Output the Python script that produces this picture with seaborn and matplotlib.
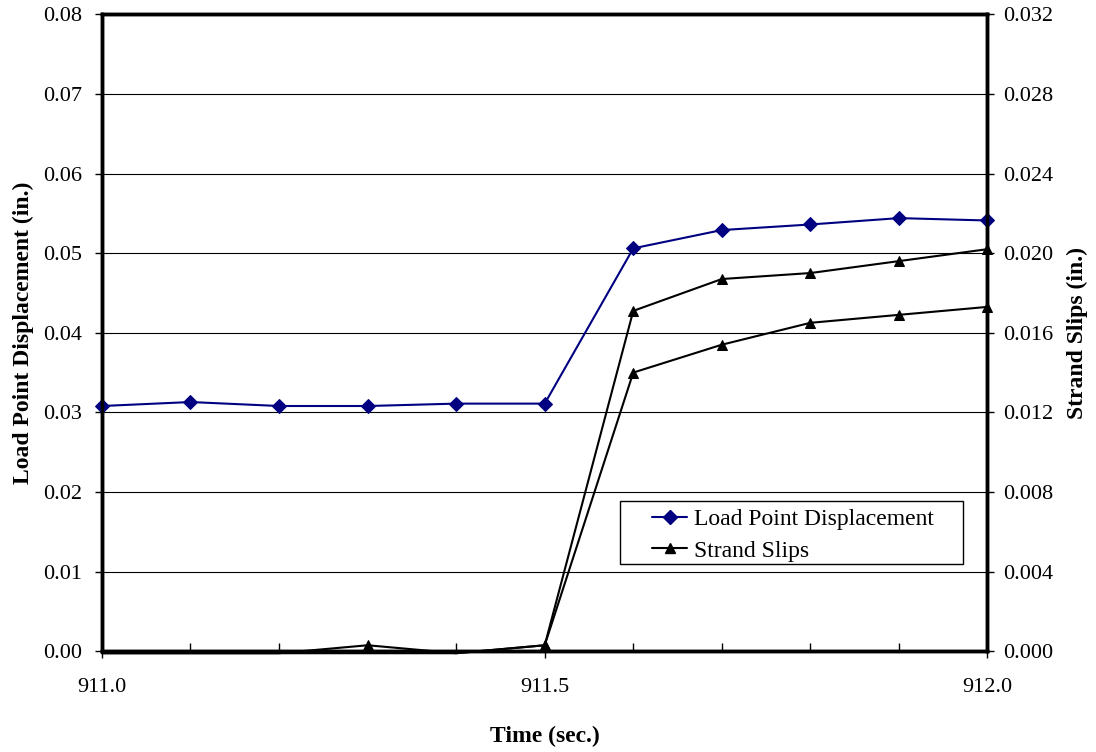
import matplotlib
matplotlib.use('Agg')
import matplotlib.pyplot as plt
import numpy as np
import pandas as pd
import seaborn as sns
from matplotlib.lines import Line2D
from matplotlib.patches import Rectangle
from matplotlib.ticker import FormatStrFormatter, MultipleLocator

# data
time = [911.0, 911.1, 911.2, 911.3, 911.4, 911.5, 911.6, 911.7, 911.8, 911.9, 912.0]
load_disp = [0.0308, 0.0313, 0.0308, 0.0308, 0.0311, 0.0311, 0.0506, 0.0529, 0.0536, 0.0544, 0.0541]
# two strand slip gauges, both plotted as "Strand Slips"
slip_a = [-0.0001, -0.0001, -0.0001, 0.0003, -0.0001, 0.0003, 0.0171, 0.0187, 0.0190, 0.0196, 0.0202]
slip_b = [-0.0001, -0.0001, -0.0001, -0.0001, -0.0001, 0.0003, 0.0140, 0.0154, 0.0165, 0.0169, 0.0173]

df = pd.DataFrame({'time': time, 'load': load_disp, 'slip_a': slip_a, 'slip_b': slip_b})

NAVY = '#000080'


def main():
    sns.set_style('white')
    plt.rcParams['font.family'] = ['Liberation Serif', 'DejaVu Serif']
    for key in ['text.color', 'axes.labelcolor', 'xtick.color', 'ytick.color']:
        plt.rcParams[key] = 'black'

    fig = plt.figure(figsize=(10.96, 7.52), dpi=100)
    ax = fig.add_axes([0.093, 0.134, 0.808, 0.847])
    ax2 = ax.twinx()

    sns.lineplot(data=df, x='time', y='load', ax=ax, color=NAVY, marker='D',
                 markersize=7, markeredgecolor=NAVY, linewidth=1.5,
                 legend=False, clip_on=False, zorder=3)
    for col in ['slip_a', 'slip_b']:
        # points below the axis are hidden behind it, so no marker there
        shown = [i for i, v in enumerate(df[col]) if v > 0]
        sns.lineplot(data=df, x='time', y=col, ax=ax2, color='black', marker='^',
                     markersize=7, markeredgecolor='black', linewidth=1.5,
                     markevery=shown, legend=False, clip_on=False)

    ax.set_xlim(911.0, 912.0)
    ax.set_ylim(0, 0.08)
    ax2.set_ylim(0, 0.032)

    ax.xaxis.set_major_locator(MultipleLocator(0.5))
    ax.xaxis.set_minor_locator(MultipleLocator(0.1))
    ax.xaxis.set_major_formatter(FormatStrFormatter('%.1f'))
    ax.yaxis.set_major_locator(MultipleLocator(0.01))
    ax.yaxis.set_major_formatter(FormatStrFormatter('%.2f'))
    ax2.yaxis.set_major_locator(MultipleLocator(0.004))
    ax2.yaxis.set_major_formatter(FormatStrFormatter('%.3f'))

    ax.grid(axis='y', color='black', linewidth=0.8)
    ax.set_axisbelow(True)

    ax.tick_params(axis='x', which='major', direction='out', length=5, width=1,
                   labelsize=16, pad=14, bottom=True)
    ax.tick_params(axis='x', which='minor', direction='in', length=6, width=1, bottom=True)
    ax.tick_params(axis='y', direction='out', length=5, width=1, labelsize=16, pad=9, left=True)
    ax2.tick_params(axis='y', direction='out', length=5, width=1, labelsize=16, pad=6, right=True)

    for a in (ax, ax2):
        for s in a.spines.values():
            s.set_color('black')
            s.set_linewidth(2.5)

    ax.set_xlabel('Time (sec.)', fontsize=17, fontweight='bold', labelpad=21)
    ax.set_ylabel('Load Point Displacement (in.)', fontsize=17, fontweight='bold', labelpad=7)
    ax2.set_ylabel('Strand Slips (in.)', fontsize=17, fontweight='bold', labelpad=10)

    # legend box drawn as its own rectangle (wide side padding like the original)
    ax2.add_patch(Rectangle((0.5853, 0.1366), 0.3876, 0.0989, transform=ax.transAxes,
                            facecolor='white', edgecolor='black', linewidth=1.0,
                            zorder=5, clip_on=False))
    handles = [
        Line2D([], [], color=NAVY, marker='D', markersize=7, markeredgecolor=NAVY, linewidth=1.5),
        Line2D([], [], color='black', marker='^', markersize=7, markeredgecolor='black', linewidth=1.5),
    ]
    labels = ['Load Point Displacement', 'Strand Slips']
    leg = ax2.legend(handles, labels, loc='upper left', bbox_to_anchor=(0.621, 0.224),
                     fontsize=17, frameon=False, borderpad=0, borderaxespad=0,
                     labelspacing=0.42, handlelength=1.5, handletextpad=0.3)
    leg.set_zorder(6)

    fig.savefig('out.png', dpi=100)
    plt.close(fig)


if __name__ == '__main__':
    main()
